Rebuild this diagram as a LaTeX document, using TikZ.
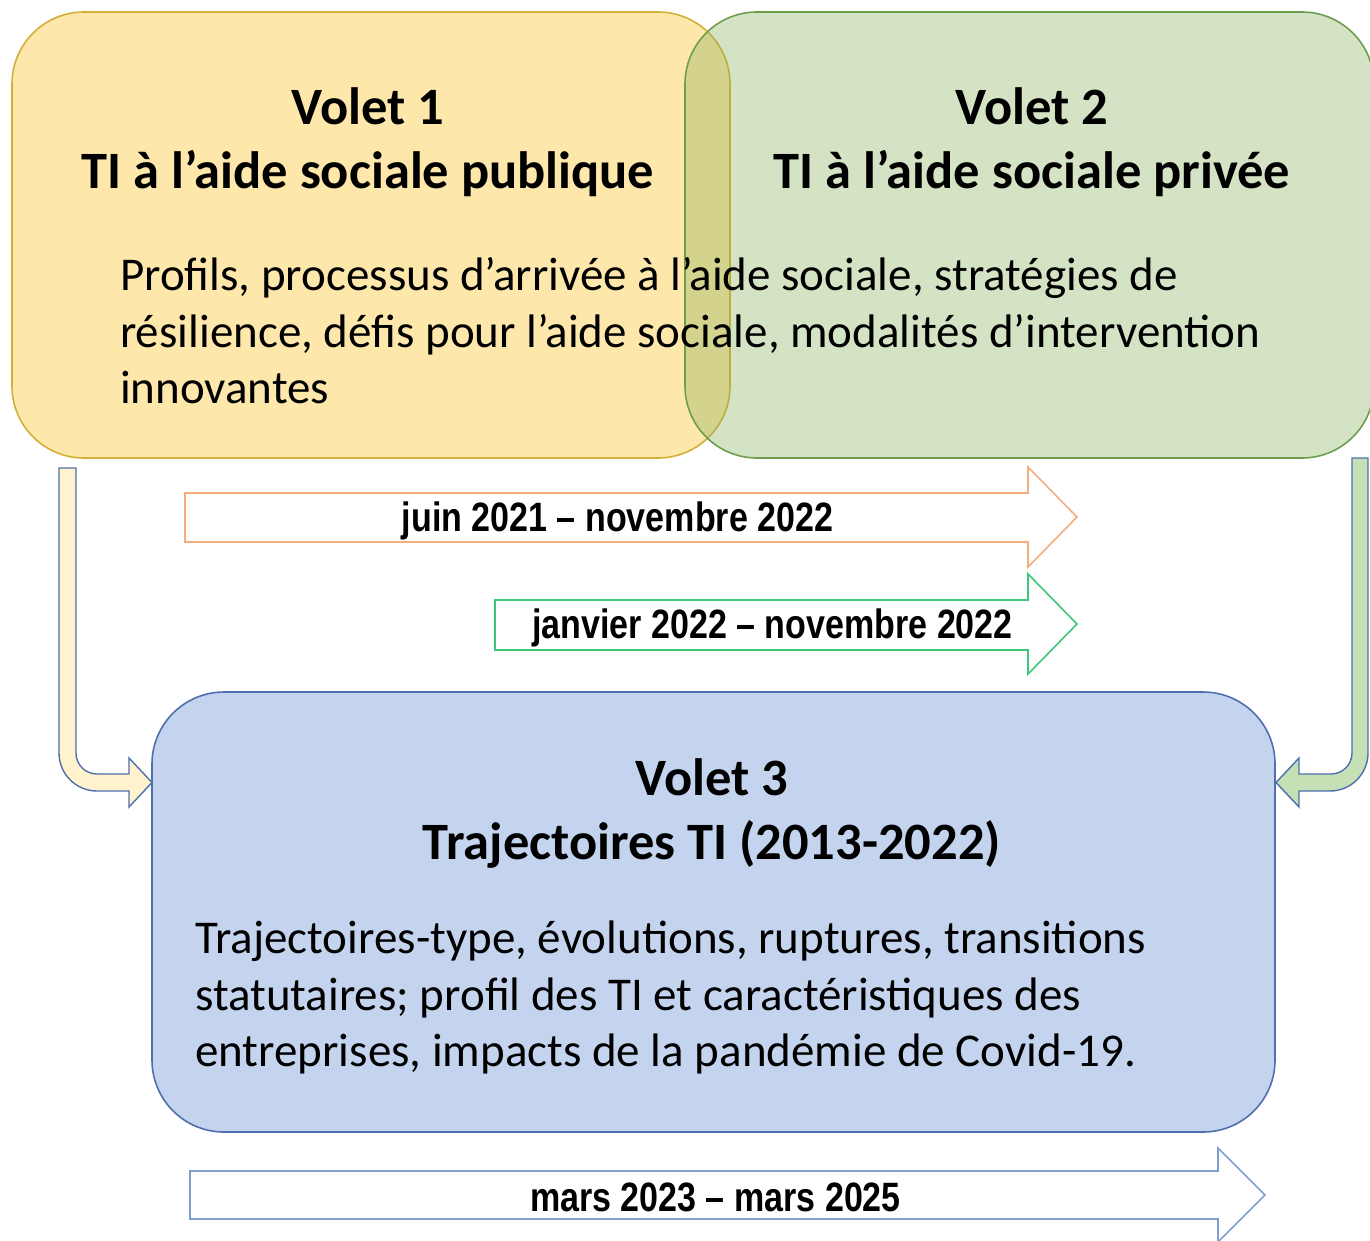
\documentclass[tikz,border=0pt]{standalone}
\usepackage{fontspec}
\setmainfont{Carlito}
\newfontfamily\datefont[FakeStretch=0.83]{Liberation Sans}
\definecolor{yfill}{HTML}{FEE7AB}
\definecolor{ydraw}{HTML}{D4AF37}
\definecolor{gfill}{HTML}{87AF59}
\definecolor{gdraw}{HTML}{6E9E4C}
\definecolor{bfill}{HTML}{C5D4EE}
\definecolor{bdraw}{HTML}{4F6FAD}
\definecolor{oarrow}{HTML}{F4AE7E}
\definecolor{garrow}{HTML}{3CC878}
\definecolor{barrow}{HTML}{7F9FCF}
\definecolor{lyarrow}{HTML}{FFF2CC}
\definecolor{lgarrow}{HTML}{C5E0B4}
\tikzset{
  box/.style={rounded corners=72pt, line width=1.6pt},
  titletext/.style={font=\fontsize{52.5}{64}\selectfont\bfseries, inner sep=0pt, anchor=base},
  bodytext/.style={font=\fontsize{47}{57}\selectfont, inner sep=0pt, anchor=base west},
  datetext/.style={font=\datefont\fontsize{41}{46}\selectfont\bfseries, inner sep=0pt, anchor=base},
  blockarrow/.style={line width=1.6pt, fill=white, line join=miter},
  bentarrow/.style={line width=1.4pt, draw=bdraw},
}
\begin{document}
\begin{tikzpicture}[x=1pt,y=-1pt]
\useasboundingbox (0,0) rectangle (1370,1240);
% Volet 1 box
\draw[box, fill=yfill, draw=ydraw] (12,12) rectangle (730,458);
% Volet 2 box
\draw[box, fill=gfill, fill opacity=0.35, draw=gdraw] (685,12) rectangle (1374,458);
% titles
\node[titletext] (t1a) at (368,124) {Volet 1};
\node[titletext] (t1b) at (368,188) {TI à l’aide sociale publique};
\node[titletext] (t2a) at (1032,124) {Volet 2};
\node[titletext] (t2b) at (1032,188) {TI à l’aide sociale privée};
\node[bodytext] (b1) at (120,290) {Profils, processus d’arrivée à l’aide sociale, stratégies de};
\node[bodytext] (b2) at (120,347) {résilience, défis pour l’aide sociale, modalités d’intervention};
\node[bodytext] (b3) at (120,403) {innovantes};
% Volet 3 box
\draw[box, fill=bfill, draw=bdraw] (152,692) rectangle (1275,1132);
\node[titletext] (t3a) at (712,795) {Volet 3};
\node[titletext] (t3b) at (712,859) {Trajectoires TI (2013-2022)};
\node[bodytext] (c1) at (195,953) {Trajectoires-type, évolutions, ruptures, transitions};
\node[bodytext] (c2) at (195,1010) {statutaires; profil des TI et caractéristiques des};
\node[bodytext] (c3) at (195,1066) {entreprises, impacts de la pandémie de Covid-19.};
% block arrows
\draw[blockarrow, draw=oarrow] (185,493) -- (1028,493) -- (1028,467) -- (1077,517) -- (1028,567) -- (1028,542) -- (185,542) -- cycle;
\node[datetext] (d1) at (617.5,531) {juin 2021 – novembre 2022};
\draw[blockarrow, draw=garrow] (495,600) -- (1028,600) -- (1028,574) -- (1077,624) -- (1028,674) -- (1028,650) -- (495,650) -- cycle;
\node[datetext] (d2) at (772.5,638) {janvier 2022 – novembre 2022};
\draw[blockarrow, draw=barrow] (190,1171) -- (1218,1171) -- (1218,1148) -- (1265,1195) -- (1218,1242) -- (1218,1219) -- (190,1219) -- cycle;
\node[datetext] (d3) at (715.5,1211) {mars 2023 – mars 2025};
% bent arrows
\draw[bentarrow, fill=lyarrow] (59,468) -- (76,468) -- (76,753) .. controls (76,764.6) and (85.4,774) .. (97,774) -- (129,774) -- (129,758) -- (152,782.5) -- (129,807) -- (129,791) -- (97,791) .. controls (76,791) and (59,774) .. (59,753) -- cycle;
\draw[bentarrow, fill=lgarrow] (1352,458) -- (1368,458) -- (1368,753) .. controls (1368,774) and (1351,791) .. (1330,791) -- (1299,791) -- (1299,807) -- (1276,782.5) -- (1299,758) -- (1299,774) -- (1331,774) .. controls (1342.6,774) and (1352,764.6) .. (1352,753) -- cycle;
\end{tikzpicture}
\end{document}
